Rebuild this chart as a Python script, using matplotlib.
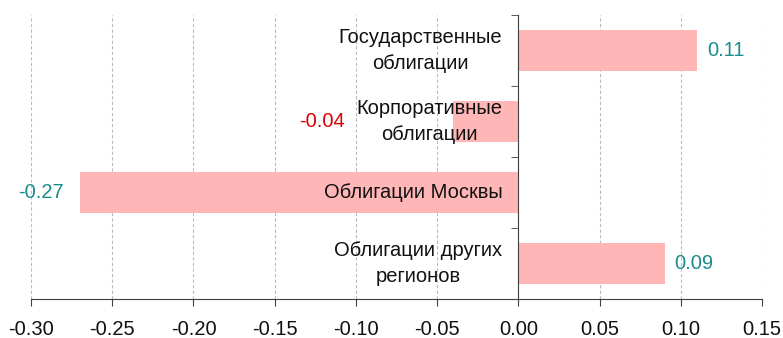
import matplotlib
matplotlib.use("Agg")
import matplotlib.pyplot as plt
from matplotlib.ticker import MultipleLocator, FixedLocator

plt.rcParams['font.family'] = ['Liberation Sans', 'DejaVu Sans']

categories = ["Государственные\nоблигации", "Корпоративные\nоблигации",
              "Облигации Москвы", "Облигации других\nрегионов"]
values = [0.11, -0.04, -0.27, 0.09]
value_labels = ["0.11", "-0.04", "-0.27", "0.09"]
label_colors = ["#1A8C8C", "#DD0000", "#1A8C8C", "#1A8C8C"]
label_offsets_px = [10, -108, -16, 10]  # horizontal gap from bar end, pixels

fig = plt.figure(figsize=(7.83, 3.38), dpi=100)
ax = fig.add_axes([31/783, 1-299/338, (762-31)/783, (299-15)/338])

n = len(categories)
ypos = list(range(n-1, -1, -1))
ax.barh(ypos, values, height=0.58, color="#FFB6B6", zorder=2)

ax.set_xlim(-0.30, 0.15)
ax.set_ylim(-0.5, n-0.5)
ax.xaxis.set_major_locator(MultipleLocator(0.05))
ax.xaxis.set_major_formatter(matplotlib.ticker.FuncFormatter(lambda v, p: f"{v:.2f}".replace("-0.00", "0.00")))
ax.grid(axis='x', linestyle=(0, (3, 2)), color="#BBBBBB", linewidth=0.8, zorder=0)

for s in ['top', 'right']:
    ax.spines[s].set_visible(False)
ax.spines['left'].set_position(('data', 0))
ax.spines['left'].set_color("#404040")
ax.spines['bottom'].set_color("#404040")
ax.spines['left'].set_zorder(3)

ax.yaxis.set_major_locator(FixedLocator([]))
ax.yaxis.set_minor_locator(FixedLocator([i - 0.5 for i in range(n+1)]))
ax.tick_params(axis='y', which='minor', length=5, color="#404040", direction='out')
ax.tick_params(axis='x', length=5, color="#404040", labelsize=14.5, pad=10, labelcolor="#111111")

dpi = fig.dpi
for y, cat in zip(ypos, categories):
    ax.annotate(cat, xy=(0, y), xytext=(-16*72/dpi, 0), textcoords='offset points',
                ha='right', va='center', multialignment='center', fontsize=14.5,
                color="#111111", zorder=4, linespacing=1.5)

for y, v, lab, c, off in zip(ypos, values, value_labels, label_colors, label_offsets_px):
    ax.annotate(lab, xy=(v, y), xytext=(off*72/dpi, 0), textcoords='offset points',
                ha='left' if off > 0 else 'right', va='center', fontsize=14.5, color=c, zorder=4)

fig.savefig("out.png", dpi=100)
